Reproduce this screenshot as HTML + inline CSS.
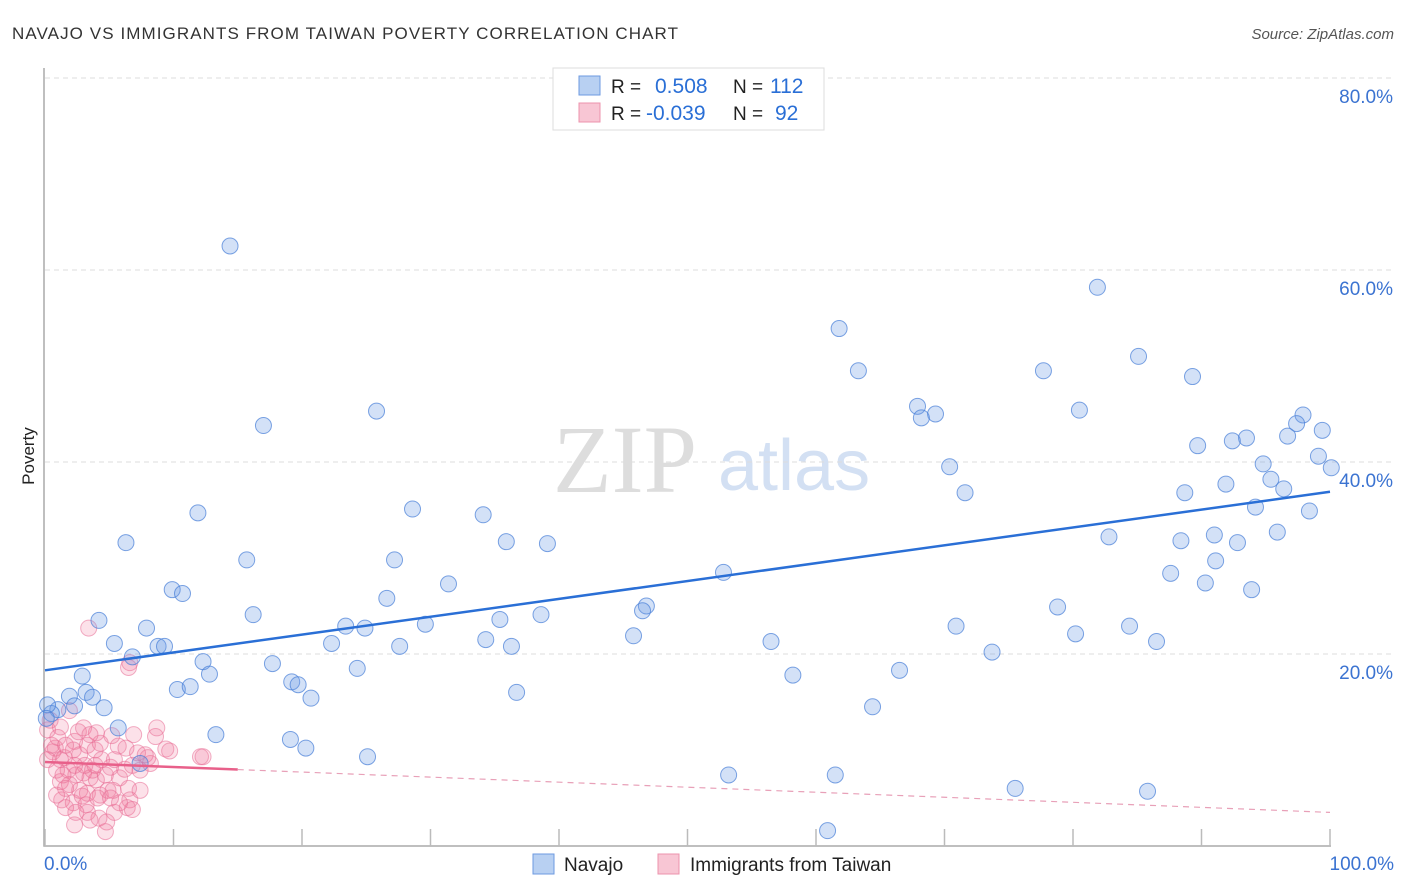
<!DOCTYPE html>
<html><head><meta charset="utf-8"><style>
body{margin:0;background:#fff;font-family:"Liberation Sans",sans-serif}
svg{display:block}
</style></head><body>
<svg id="c" width="1406" height="892">
<text x="12" y="39" font-size="17" fill="#333" textLength="666" lengthAdjust="spacing">NAVAJO VS IMMIGRANTS FROM TAIWAN POVERTY CORRELATION CHART</text>
<text x="1394" y="39" font-size="15" fill="#555" font-style="italic" text-anchor="end">Source: ZipAtlas.com</text>
<text x="34" y="456" font-size="17" fill="#222" text-anchor="middle" transform="rotate(-90 34 456)">Poverty</text>
<g><text x="553" y="492" font-family="Liberation Serif,serif" font-size="96" fill="#ddd">ZIP</text><text x="718" y="490" font-size="72" fill="#d3e0f3">atlas</text></g>
<g id="grid"></g><g id="pts"></g><g id="trend"></g>
<g>
<rect x="553" y="68" width="271" height="62" fill="#fff" stroke="#ddd"/>
<rect x="579" y="76" width="21" height="19" fill="#b8d0f2" stroke="#6d9ae0"/>
<rect x="579" y="103" width="21" height="19" fill="#f8c6d4" stroke="#ec93ad"/>
<text x="611" y="93" font-size="19" fill="#222">R = </text><text x="655" y="93" font-size="21" fill="#2a6fd6">0.508</text>
<text x="733" y="93" font-size="19" fill="#222">N = </text><text x="770" y="93" font-size="21" fill="#2a6fd6">112</text>
<text x="611" y="120" font-size="19" fill="#222">R = </text><text x="646" y="120" font-size="21" fill="#2a6fd6">-0.039</text>
<text x="733" y="120" font-size="19" fill="#222">N = </text><text x="775" y="120" font-size="21" fill="#2a6fd6">92</text>
</g>
<g>
<rect x="533" y="854" width="21" height="20" fill="#b8d0f2" stroke="#6d9ae0"/><text x="564" y="871" font-size="19" fill="#222">Navajo</text>
<rect x="658" y="854" width="21" height="20" fill="#f8c6d4" stroke="#ec93ad"/><text x="690" y="871" font-size="19" fill="#222">Immigrants from Taiwan</text>
</g>
<text x="44" y="870" font-size="19" fill="#3b73d1">0.0%</text>
<text x="1394" y="870" font-size="19" fill="#3b73d1" text-anchor="end">100.0%</text>
</svg>
<script>
const yTicks=[20,40,60,80];
const yTickLabels=["20.0%","40.0%","60.0%","80.0%"];
const xTicks=[0,10,20,30,40,50,60,70,80,90,100];
const navajoX=[14.4,81.9,61.8,85.1,63.3,77.7,89.3,25.8,67.9,80.5,69.3,68.2,97.9,97.4,17.0,99.4,96.7,93.5,89.7,92.4,99.1,94.8,70.4,100.1,95.4,91.9,96.4,71.6,88.7,94.2,28.6,34.1,11.9,98.4,95.9,82.8,6.3,35.9,39.1,88.4,92.8,91.0,91.1,15.7,27.2,87.6,52.8,31.4,90.3,9.9,10.7,26.6,93.9,46.8,46.5,78.8,16.2,38.6,35.4,4.2,29.6,7.9,23.4,24.9,70.9,84.4,45.8,80.2,5.4,34.3,22.3,8.8,9.3,27.6,36.3,56.5,86.5,73.7,6.8,12.3,17.7,24.3,12.8,58.2,66.5,2.9,19.2,19.7,10.3,11.3,1.9,3.2,3.7,20.7,36.7,2.3,4.6,1.0,0.5,0.2,0.1,64.4,5.7,13.3,19.1,20.3,25.1,7.4,53.2,61.5,75.5,85.8,60.9];
const navajoY=[62.5,58.2,53.9,51.0,49.5,49.5,48.9,45.3,45.8,45.4,45.0,44.6,44.9,44.0,43.8,43.3,42.7,42.5,41.7,42.2,40.6,39.8,39.5,39.4,38.2,37.7,37.2,36.8,36.8,35.3,35.1,34.5,34.7,34.9,32.7,32.2,31.6,31.7,31.5,31.8,31.6,32.4,29.7,29.8,29.8,28.4,28.5,27.3,27.4,26.7,26.3,25.8,26.7,25.0,24.5,24.9,24.1,24.1,23.6,23.5,23.1,22.7,22.9,22.7,22.9,22.9,21.9,22.1,21.1,21.5,21.1,20.8,20.8,20.8,20.8,21.3,21.3,20.2,19.7,19.2,19.0,18.5,17.9,17.8,18.3,17.7,17.1,16.8,16.3,16.6,15.6,16.0,15.5,15.4,16.0,14.6,14.4,14.2,13.8,14.7,13.3,14.5,12.3,11.6,11.1,10.2,9.3,8.6,7.4,7.4,6.0,5.7,1.6];
const taiwanX=[3.4,6.6,6.5,1.9,0.4,0.2,0.8,0.6,1.2,1.5,2.3,2.2,2.7,3.3,3.9,4.3,1.8,2.4,3.0,3.5,4.0,4.7,1.2,1.9,2.7,3.3,4.3,4.9,1.3,2.2,3.2,4.1,5.3,5.8,6.2,6.8,6.5,6.6,6.4,6.8,1.6,3.3,4.2,4.8,4.7,5.7,6.3,7.2,8.2,8.6,8.7,9.4,9.7,12.1,12.3,6.9,2.9,3.5,5.4,2.3,5.1,5.8,3.7,5.1,0.9,1.4,0.2,0.5,1.0,1.6,3.1,3.9,7.4,8.0,4.4,2.6,5.2,1.6,2.3,0.9,4.0,3.0,2.4,5.4,7.4,7.8,1.2,3.5];
const taiwanY=[22.7,19.1,18.6,14.1,13.1,12.1,10.2,9.8,9.0,9.2,10.9,10.0,9.5,10.5,10.0,10.7,7.9,7.4,7.6,7.1,6.9,7.4,6.7,6.4,5.8,5.5,5.3,5.8,4.8,4.5,4.3,5.0,5.8,7.1,8.0,8.4,6.0,4.8,4.0,3.8,4.0,3.5,2.9,2.5,1.5,10.4,10.2,9.7,8.6,11.4,12.3,10.1,9.9,9.3,9.3,11.6,5.2,2.7,3.5,2.2,5.0,4.5,7.9,8.2,7.9,7.4,9.0,10.5,11.3,10.5,8.4,8.4,7.9,9.2,9.0,11.9,11.5,6.0,8.4,5.3,11.8,12.3,3.5,9.0,5.8,9.5,12.4,11.6];
const navajoTrend=[18.3,36.9];
const taiwanTrend=[8.75,3.5];
const taiwanSolidEnd=15;
const NS="http://www.w3.org/2000/svg";
const sx=v=>45+v*12.85, sy=v=>846-v*9.6;
function mk(tag,attrs,parent){const e=document.createElementNS(NS,tag);for(const k in attrs)e.setAttribute(k,attrs[k]);parent.appendChild(e);return e;}
const grid=document.getElementById('grid');
yTicks.forEach((t,i)=>{
 const l=mk('line',{x1:45,x2:1395,y1:sy(t),y2:sy(t),stroke:'#ddd','stroke-dasharray':'5,4'},grid);
 
 
 const tx=mk('text',{x:1393,y:sy(t)+25,'font-size':19,fill:'#3b73d1','text-anchor':'end'},grid);
 tx.textContent=yTickLabels[i];
 
 
});
const ax=mk('path',{d:'M44,68 V846 H1331',fill:'none',stroke:'#aaa','stroke-width':1.5},grid);


xTicks.forEach(t=>{
 const l=mk('line',{x1:sx(t),x2:sx(t),y1:829,y2:846,stroke:'#bbb','stroke-width':1.5},grid);
 
 
});
const pts=document.getElementById('pts');
taiwanX.forEach((x,i)=>{
 const c=mk('circle',{cx:sx(x),cy:sy(taiwanY[i]),r:8,fill:'rgba(240,120,155,0.22)',stroke:'rgba(232,110,150,0.55)','stroke-width':1},pts);
 
 
});
navajoX.forEach((x,i)=>{
 const c=mk('circle',{cx:sx(x),cy:sy(navajoY[i]),r:8,fill:'rgba(110,155,230,0.3)',stroke:'rgba(70,125,215,0.7)','stroke-width':1},pts);
 
 
});
const tr=document.getElementById('trend');
const b=mk('line',{x1:sx(0),y1:sy(navajoTrend[0]),x2:sx(100),y2:sy(navajoTrend[1]),stroke:'#2a6fd6','stroke-width':2.5},tr);


const pAt=x=>taiwanTrend[0]+(taiwanTrend[1]-taiwanTrend[0])*x/100;
const p1=mk('line',{x1:sx(0),y1:sy(pAt(0)),x2:sx(taiwanSolidEnd),y2:sy(pAt(taiwanSolidEnd)),stroke:'#e8608a','stroke-width':2.5},tr);


const p2=mk('line',{x1:sx(taiwanSolidEnd),y1:sy(pAt(taiwanSolidEnd)),x2:sx(100),y2:sy(pAt(100)),stroke:'#e8a0b8','stroke-width':1.2,'stroke-dasharray':'6,5'},tr);


</script>
</body></html>
